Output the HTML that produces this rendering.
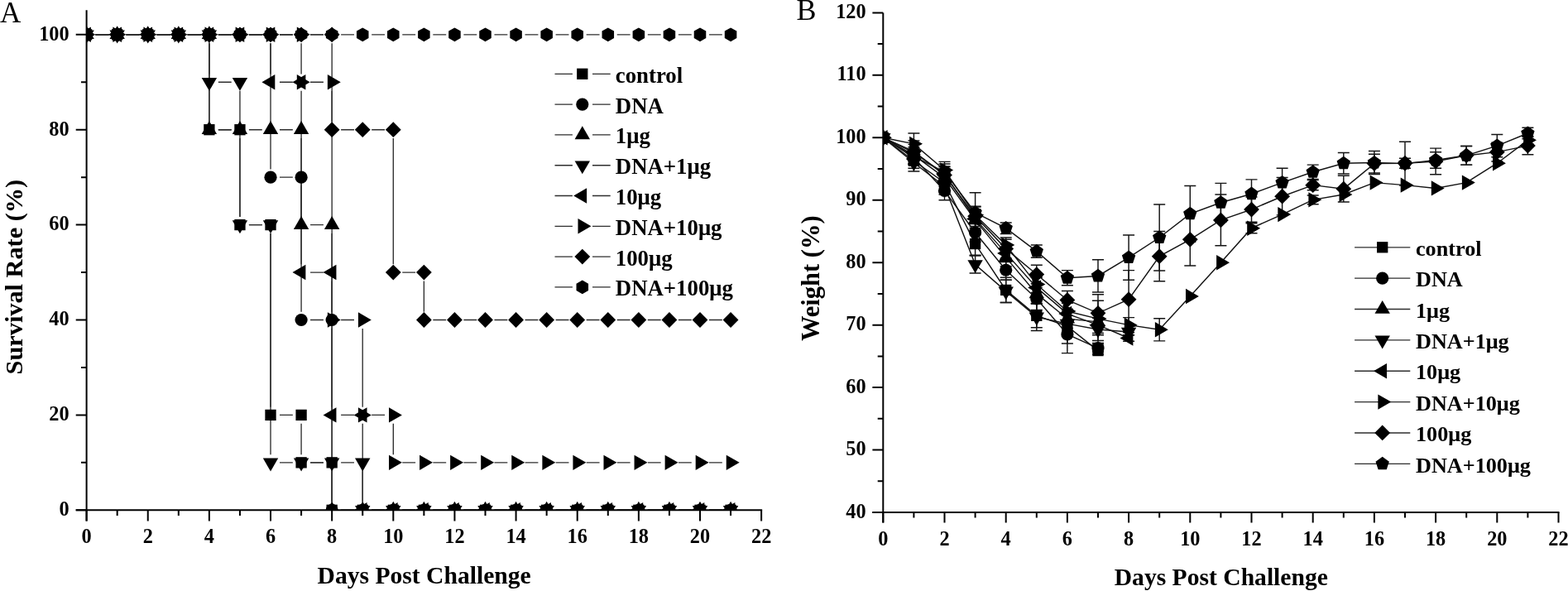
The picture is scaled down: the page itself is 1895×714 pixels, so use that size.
<!DOCTYPE html>
<html><head><meta charset="utf-8"><title>Survival and weight</title><style>html,body{margin:0;padding:0;background:#fff;}svg{display:block;}</style></head><body>
<svg width="1895" height="714" viewBox="0 0 1895 714">
<rect width="1895" height="714" fill="#fff"/>
<defs><clipPath id="ca"><rect x="104.6" y="0" width="827.54" height="616.3"/></clipPath><clipPath id="cb"><rect x="1067.3" y="0" width="830" height="619"/></clipPath></defs>
<g clip-path="url(#ca)" stroke="#2e2e2e" stroke-width="1.35" fill="none">
<path d="M115.55 41.80L131.42 41.80M152.62 41.80L168.49 41.80M189.69 41.80L205.56 41.80M226.76 41.80L242.63 41.80M252.88 52.20L252.88 147.00M263.83 156.70L279.70 156.70M289.95 167.10L289.95 261.90M300.90 271.60L316.77 271.60M327.02 282.00L327.02 491.70M337.97 501.40L353.84 501.40M364.09 511.80L364.09 549.15M375.04 558.85L390.91 558.85M401.16 569.25L401.16 606.60M412.11 616.30L427.98 616.30M449.18 616.30L465.05 616.30M486.25 616.30L502.12 616.30M523.32 616.30L539.19 616.30M560.39 616.30L576.26 616.30M597.46 616.30L613.33 616.30M634.53 616.30L650.40 616.30M671.60 616.30L687.47 616.30M708.67 616.30L724.54 616.30M745.74 616.30L761.61 616.30M782.81 616.30L798.68 616.30M819.88 616.30L835.75 616.30M856.95 616.30L872.82 616.30"/>
<path d="M115.55 41.80L131.42 41.80M152.62 41.80L168.49 41.80M189.69 41.80L205.56 41.80M226.76 41.80L242.63 41.80M263.83 41.80L279.70 41.80M300.90 41.80L316.77 41.80M327.02 52.20L327.02 204.45M337.97 214.15L353.84 214.15M364.09 224.55L364.09 376.80M375.04 386.50L390.91 386.50M401.16 396.90L401.16 606.60M412.11 616.30L427.98 616.30M449.18 616.30L465.05 616.30M486.25 616.30L502.12 616.30M523.32 616.30L539.19 616.30M560.39 616.30L576.26 616.30M597.46 616.30L613.33 616.30M634.53 616.30L650.40 616.30M671.60 616.30L687.47 616.30M708.67 616.30L724.54 616.30M745.74 616.30L761.61 616.30M782.81 616.30L798.68 616.30M819.88 616.30L835.75 616.30M856.95 616.30L872.82 616.30"/>
<path d="M115.55 41.80L131.42 41.80M152.62 41.80L168.49 41.80M189.69 41.80L205.56 41.80M226.76 41.80L242.63 41.80M252.88 52.20L252.88 147.00M263.83 156.70L279.70 156.70M300.90 156.70L316.77 156.70M337.97 156.70L353.84 156.70M364.09 167.10L364.09 261.90M375.04 271.60L390.91 271.60M401.16 282.00L401.16 606.60M412.11 616.30L427.98 616.30M449.18 616.30L465.05 616.30M486.25 616.30L502.12 616.30M523.32 616.30L539.19 616.30M560.39 616.30L576.26 616.30M597.46 616.30L613.33 616.30M634.53 616.30L650.40 616.30M671.60 616.30L687.47 616.30M708.67 616.30L724.54 616.30M745.74 616.30L761.61 616.30M782.81 616.30L798.68 616.30M819.88 616.30L835.75 616.30M856.95 616.30L872.82 616.30"/>
<path d="M115.55 41.80L131.42 41.80M152.62 41.80L168.49 41.80M189.69 41.80L205.56 41.80M226.76 41.80L242.63 41.80M252.88 52.20L252.88 89.55M263.83 99.25L279.70 99.25M289.95 109.65L289.95 261.90M300.90 271.60L316.77 271.60M327.02 282.00L327.02 549.15M337.97 558.85L353.84 558.85M375.04 558.85L390.91 558.85M412.11 558.85L427.98 558.85M438.23 569.25L438.23 606.60M449.18 616.30L465.05 616.30M486.25 616.30L502.12 616.30M523.32 616.30L539.19 616.30M560.39 616.30L576.26 616.30M597.46 616.30L613.33 616.30M634.53 616.30L650.40 616.30M671.60 616.30L687.47 616.30M708.67 616.30L724.54 616.30M745.74 616.30L761.61 616.30M782.81 616.30L798.68 616.30M819.88 616.30L835.75 616.30M856.95 616.30L872.82 616.30"/>
<path d="M115.55 41.80L131.42 41.80M152.62 41.80L168.49 41.80M189.69 41.80L205.56 41.80M226.76 41.80L242.63 41.80M263.83 41.80L279.70 41.80M300.90 41.80L316.77 41.80M327.02 52.20L327.02 89.55M337.97 99.25L353.84 99.25M364.09 109.65L364.09 319.35M375.04 329.05L390.91 329.05M401.16 339.45L401.16 491.70M412.11 501.40L427.98 501.40M438.23 511.80L438.23 606.60M449.18 616.30L465.05 616.30M486.25 616.30L502.12 616.30M523.32 616.30L539.19 616.30M560.39 616.30L576.26 616.30M597.46 616.30L613.33 616.30M634.53 616.30L650.40 616.30M671.60 616.30L687.47 616.30M708.67 616.30L724.54 616.30M745.74 616.30L761.61 616.30M782.81 616.30L798.68 616.30M819.88 616.30L835.75 616.30M856.95 616.30L872.82 616.30"/>
<path d="M115.55 41.80L131.42 41.80M152.62 41.80L168.49 41.80M189.69 41.80L205.56 41.80M226.76 41.80L242.63 41.80M263.83 41.80L279.70 41.80M300.90 41.80L316.77 41.80M337.97 41.80L353.84 41.80M364.09 52.20L364.09 89.55M375.04 99.25L390.91 99.25M401.16 109.65L401.16 376.80M412.11 386.50L427.98 386.50M438.23 396.90L438.23 491.70M449.18 501.40L465.05 501.40M475.30 511.80L475.30 549.15M486.25 558.85L502.12 558.85M523.32 558.85L539.19 558.85M560.39 558.85L576.26 558.85M597.46 558.85L613.33 558.85M634.53 558.85L650.40 558.85M671.60 558.85L687.47 558.85M708.67 558.85L724.54 558.85M745.74 558.85L761.61 558.85M782.81 558.85L798.68 558.85M819.88 558.85L835.75 558.85M856.95 558.85L872.82 558.85"/>
<path d="M115.55 41.80L131.42 41.80M152.62 41.80L168.49 41.80M189.69 41.80L205.56 41.80M226.76 41.80L242.63 41.80M263.83 41.80L279.70 41.80M300.90 41.80L316.77 41.80M337.97 41.80L353.84 41.80M375.04 41.80L390.91 41.80M401.16 52.20L401.16 147.00M412.11 156.70L427.98 156.70M449.18 156.70L465.05 156.70M475.30 167.10L475.30 319.35M486.25 329.05L502.12 329.05M512.37 339.45L512.37 376.80M523.32 386.50L539.19 386.50M560.39 386.50L576.26 386.50M597.46 386.50L613.33 386.50M634.53 386.50L650.40 386.50M671.60 386.50L687.47 386.50M708.67 386.50L724.54 386.50M745.74 386.50L761.61 386.50M782.81 386.50L798.68 386.50M819.88 386.50L835.75 386.50M856.95 386.50L872.82 386.50"/>
<path d="M115.55 41.80L131.42 41.80M152.62 41.80L168.49 41.80M189.69 41.80L205.56 41.80M226.76 41.80L242.63 41.80M263.83 41.80L279.70 41.80M300.90 41.80L316.77 41.80M337.97 41.80L353.84 41.80M375.04 41.80L390.91 41.80M412.11 41.80L427.98 41.80M449.18 41.80L465.05 41.80M486.25 41.80L502.12 41.80M523.32 41.80L539.19 41.80M560.39 41.80L576.26 41.80M597.46 41.80L613.33 41.80M634.53 41.80L650.40 41.80M671.60 41.80L687.47 41.80M708.67 41.80L724.54 41.80M745.74 41.80L761.61 41.80M782.81 41.80L798.68 41.80M819.88 41.80L835.75 41.80M856.95 41.80L872.82 41.80"/>
</g>
<g clip-path="url(#ca)" fill="#000">
<rect x="97.95" y="35.15" width="13.30" height="13.30"/>
<rect x="135.02" y="35.15" width="13.30" height="13.30"/>
<rect x="172.09" y="35.15" width="13.30" height="13.30"/>
<rect x="209.16" y="35.15" width="13.30" height="13.30"/>
<rect x="246.23" y="35.15" width="13.30" height="13.30"/>
<rect x="246.23" y="150.05" width="13.30" height="13.30"/>
<rect x="283.30" y="150.05" width="13.30" height="13.30"/>
<rect x="283.30" y="264.95" width="13.30" height="13.30"/>
<rect x="320.37" y="264.95" width="13.30" height="13.30"/>
<rect x="320.37" y="494.75" width="13.30" height="13.30"/>
<rect x="357.44" y="494.75" width="13.30" height="13.30"/>
<rect x="357.44" y="552.20" width="13.30" height="13.30"/>
<rect x="394.51" y="552.20" width="13.30" height="13.30"/>
<rect x="394.51" y="609.65" width="13.30" height="13.30"/>
<rect x="431.58" y="609.65" width="13.30" height="13.30"/>
<rect x="468.65" y="609.65" width="13.30" height="13.30"/>
<rect x="505.72" y="609.65" width="13.30" height="13.30"/>
<rect x="542.79" y="609.65" width="13.30" height="13.30"/>
<rect x="579.86" y="609.65" width="13.30" height="13.30"/>
<rect x="616.93" y="609.65" width="13.30" height="13.30"/>
<rect x="654.00" y="609.65" width="13.30" height="13.30"/>
<rect x="691.07" y="609.65" width="13.30" height="13.30"/>
<rect x="728.14" y="609.65" width="13.30" height="13.30"/>
<rect x="765.21" y="609.65" width="13.30" height="13.30"/>
<rect x="802.28" y="609.65" width="13.30" height="13.30"/>
<rect x="839.35" y="609.65" width="13.30" height="13.30"/>
<rect x="876.42" y="609.65" width="13.30" height="13.30"/>
<circle cx="104.60" cy="41.80" r="7.60"/>
<circle cx="141.67" cy="41.80" r="7.60"/>
<circle cx="178.74" cy="41.80" r="7.60"/>
<circle cx="215.81" cy="41.80" r="7.60"/>
<circle cx="252.88" cy="41.80" r="7.60"/>
<circle cx="289.95" cy="41.80" r="7.60"/>
<circle cx="327.02" cy="41.80" r="7.60"/>
<circle cx="327.02" cy="214.15" r="7.60"/>
<circle cx="364.09" cy="214.15" r="7.60"/>
<circle cx="364.09" cy="386.50" r="7.60"/>
<circle cx="401.16" cy="386.50" r="7.60"/>
<circle cx="401.16" cy="616.30" r="7.60"/>
<circle cx="438.23" cy="616.30" r="7.60"/>
<circle cx="475.30" cy="616.30" r="7.60"/>
<circle cx="512.37" cy="616.30" r="7.60"/>
<circle cx="549.44" cy="616.30" r="7.60"/>
<circle cx="586.51" cy="616.30" r="7.60"/>
<circle cx="623.58" cy="616.30" r="7.60"/>
<circle cx="660.65" cy="616.30" r="7.60"/>
<circle cx="697.72" cy="616.30" r="7.60"/>
<circle cx="734.79" cy="616.30" r="7.60"/>
<circle cx="771.86" cy="616.30" r="7.60"/>
<circle cx="808.93" cy="616.30" r="7.60"/>
<circle cx="846.00" cy="616.30" r="7.60"/>
<circle cx="883.07" cy="616.30" r="7.60"/>
<polygon points="104.60,31.20 113.80,47.10 95.40,47.10"/>
<polygon points="141.67,31.20 150.87,47.10 132.47,47.10"/>
<polygon points="178.74,31.20 187.94,47.10 169.54,47.10"/>
<polygon points="215.81,31.20 225.01,47.10 206.61,47.10"/>
<polygon points="252.88,31.20 262.08,47.10 243.68,47.10"/>
<polygon points="252.88,146.10 262.08,162.00 243.68,162.00"/>
<polygon points="289.95,146.10 299.15,162.00 280.75,162.00"/>
<polygon points="327.02,146.10 336.22,162.00 317.82,162.00"/>
<polygon points="364.09,146.10 373.29,162.00 354.89,162.00"/>
<polygon points="364.09,261.00 373.29,276.90 354.89,276.90"/>
<polygon points="401.16,261.00 410.36,276.90 391.96,276.90"/>
<polygon points="401.16,605.70 410.36,621.60 391.96,621.60"/>
<polygon points="438.23,605.70 447.43,621.60 429.03,621.60"/>
<polygon points="475.30,605.70 484.50,621.60 466.10,621.60"/>
<polygon points="512.37,605.70 521.57,621.60 503.17,621.60"/>
<polygon points="549.44,605.70 558.64,621.60 540.24,621.60"/>
<polygon points="586.51,605.70 595.71,621.60 577.31,621.60"/>
<polygon points="623.58,605.70 632.78,621.60 614.38,621.60"/>
<polygon points="660.65,605.70 669.85,621.60 651.45,621.60"/>
<polygon points="697.72,605.70 706.92,621.60 688.52,621.60"/>
<polygon points="734.79,605.70 743.99,621.60 725.59,621.60"/>
<polygon points="771.86,605.70 781.06,621.60 762.66,621.60"/>
<polygon points="808.93,605.70 818.13,621.60 799.73,621.60"/>
<polygon points="846.00,605.70 855.20,621.60 836.80,621.60"/>
<polygon points="883.07,605.70 892.27,621.60 873.87,621.60"/>
<polygon points="104.60,52.40 113.80,36.50 95.40,36.50"/>
<polygon points="141.67,52.40 150.87,36.50 132.47,36.50"/>
<polygon points="178.74,52.40 187.94,36.50 169.54,36.50"/>
<polygon points="215.81,52.40 225.01,36.50 206.61,36.50"/>
<polygon points="252.88,52.40 262.08,36.50 243.68,36.50"/>
<polygon points="252.88,109.85 262.08,93.95 243.68,93.95"/>
<polygon points="289.95,109.85 299.15,93.95 280.75,93.95"/>
<polygon points="289.95,282.20 299.15,266.30 280.75,266.30"/>
<polygon points="327.02,282.20 336.22,266.30 317.82,266.30"/>
<polygon points="327.02,569.45 336.22,553.55 317.82,553.55"/>
<polygon points="364.09,569.45 373.29,553.55 354.89,553.55"/>
<polygon points="401.16,569.45 410.36,553.55 391.96,553.55"/>
<polygon points="438.23,569.45 447.43,553.55 429.03,553.55"/>
<polygon points="438.23,626.90 447.43,611.00 429.03,611.00"/>
<polygon points="475.30,626.90 484.50,611.00 466.10,611.00"/>
<polygon points="512.37,626.90 521.57,611.00 503.17,611.00"/>
<polygon points="549.44,626.90 558.64,611.00 540.24,611.00"/>
<polygon points="586.51,626.90 595.71,611.00 577.31,611.00"/>
<polygon points="623.58,626.90 632.78,611.00 614.38,611.00"/>
<polygon points="660.65,626.90 669.85,611.00 651.45,611.00"/>
<polygon points="697.72,626.90 706.92,611.00 688.52,611.00"/>
<polygon points="734.79,626.90 743.99,611.00 725.59,611.00"/>
<polygon points="771.86,626.90 781.06,611.00 762.66,611.00"/>
<polygon points="808.93,626.90 818.13,611.00 799.73,611.00"/>
<polygon points="846.00,626.90 855.20,611.00 836.80,611.00"/>
<polygon points="883.07,626.90 892.27,611.00 873.87,611.00"/>
<polygon points="94.00,41.80 109.90,32.60 109.90,51.00"/>
<polygon points="131.07,41.80 146.97,32.60 146.97,51.00"/>
<polygon points="168.14,41.80 184.04,32.60 184.04,51.00"/>
<polygon points="205.21,41.80 221.11,32.60 221.11,51.00"/>
<polygon points="242.28,41.80 258.18,32.60 258.18,51.00"/>
<polygon points="279.35,41.80 295.25,32.60 295.25,51.00"/>
<polygon points="316.42,41.80 332.32,32.60 332.32,51.00"/>
<polygon points="316.42,99.25 332.32,90.05 332.32,108.45"/>
<polygon points="353.49,99.25 369.39,90.05 369.39,108.45"/>
<polygon points="353.49,329.05 369.39,319.85 369.39,338.25"/>
<polygon points="390.56,329.05 406.46,319.85 406.46,338.25"/>
<polygon points="390.56,501.40 406.46,492.20 406.46,510.60"/>
<polygon points="427.63,501.40 443.53,492.20 443.53,510.60"/>
<polygon points="427.63,616.30 443.53,607.10 443.53,625.50"/>
<polygon points="464.70,616.30 480.60,607.10 480.60,625.50"/>
<polygon points="501.77,616.30 517.67,607.10 517.67,625.50"/>
<polygon points="538.84,616.30 554.74,607.10 554.74,625.50"/>
<polygon points="575.91,616.30 591.81,607.10 591.81,625.50"/>
<polygon points="612.98,616.30 628.88,607.10 628.88,625.50"/>
<polygon points="650.05,616.30 665.95,607.10 665.95,625.50"/>
<polygon points="687.12,616.30 703.02,607.10 703.02,625.50"/>
<polygon points="724.19,616.30 740.09,607.10 740.09,625.50"/>
<polygon points="761.26,616.30 777.16,607.10 777.16,625.50"/>
<polygon points="798.33,616.30 814.23,607.10 814.23,625.50"/>
<polygon points="835.40,616.30 851.30,607.10 851.30,625.50"/>
<polygon points="872.47,616.30 888.37,607.10 888.37,625.50"/>
<polygon points="115.20,41.80 99.30,32.60 99.30,51.00"/>
<polygon points="152.27,41.80 136.37,32.60 136.37,51.00"/>
<polygon points="189.34,41.80 173.44,32.60 173.44,51.00"/>
<polygon points="226.41,41.80 210.51,32.60 210.51,51.00"/>
<polygon points="263.48,41.80 247.58,32.60 247.58,51.00"/>
<polygon points="300.55,41.80 284.65,32.60 284.65,51.00"/>
<polygon points="337.62,41.80 321.72,32.60 321.72,51.00"/>
<polygon points="374.69,41.80 358.79,32.60 358.79,51.00"/>
<polygon points="374.69,99.25 358.79,90.05 358.79,108.45"/>
<polygon points="411.76,99.25 395.86,90.05 395.86,108.45"/>
<polygon points="411.76,386.50 395.86,377.30 395.86,395.70"/>
<polygon points="448.83,386.50 432.93,377.30 432.93,395.70"/>
<polygon points="448.83,501.40 432.93,492.20 432.93,510.60"/>
<polygon points="485.90,501.40 470.00,492.20 470.00,510.60"/>
<polygon points="485.90,558.85 470.00,549.65 470.00,568.05"/>
<polygon points="522.97,558.85 507.07,549.65 507.07,568.05"/>
<polygon points="560.04,558.85 544.14,549.65 544.14,568.05"/>
<polygon points="597.11,558.85 581.21,549.65 581.21,568.05"/>
<polygon points="634.18,558.85 618.28,549.65 618.28,568.05"/>
<polygon points="671.25,558.85 655.35,549.65 655.35,568.05"/>
<polygon points="708.32,558.85 692.42,549.65 692.42,568.05"/>
<polygon points="745.39,558.85 729.49,549.65 729.49,568.05"/>
<polygon points="782.46,558.85 766.56,549.65 766.56,568.05"/>
<polygon points="819.53,558.85 803.63,549.65 803.63,568.05"/>
<polygon points="856.60,558.85 840.70,549.65 840.70,568.05"/>
<polygon points="893.67,558.85 877.77,549.65 877.77,568.05"/>
<polygon points="104.60,32.40 114.00,41.80 104.60,51.20 95.20,41.80"/>
<polygon points="141.67,32.40 151.07,41.80 141.67,51.20 132.27,41.80"/>
<polygon points="178.74,32.40 188.14,41.80 178.74,51.20 169.34,41.80"/>
<polygon points="215.81,32.40 225.21,41.80 215.81,51.20 206.41,41.80"/>
<polygon points="252.88,32.40 262.28,41.80 252.88,51.20 243.48,41.80"/>
<polygon points="289.95,32.40 299.35,41.80 289.95,51.20 280.55,41.80"/>
<polygon points="327.02,32.40 336.42,41.80 327.02,51.20 317.62,41.80"/>
<polygon points="364.09,32.40 373.49,41.80 364.09,51.20 354.69,41.80"/>
<polygon points="401.16,32.40 410.56,41.80 401.16,51.20 391.76,41.80"/>
<polygon points="401.16,147.30 410.56,156.70 401.16,166.10 391.76,156.70"/>
<polygon points="438.23,147.30 447.63,156.70 438.23,166.10 428.83,156.70"/>
<polygon points="475.30,147.30 484.70,156.70 475.30,166.10 465.90,156.70"/>
<polygon points="475.30,319.65 484.70,329.05 475.30,338.45 465.90,329.05"/>
<polygon points="512.37,319.65 521.77,329.05 512.37,338.45 502.97,329.05"/>
<polygon points="512.37,377.10 521.77,386.50 512.37,395.90 502.97,386.50"/>
<polygon points="549.44,377.10 558.84,386.50 549.44,395.90 540.04,386.50"/>
<polygon points="586.51,377.10 595.91,386.50 586.51,395.90 577.11,386.50"/>
<polygon points="623.58,377.10 632.98,386.50 623.58,395.90 614.18,386.50"/>
<polygon points="660.65,377.10 670.05,386.50 660.65,395.90 651.25,386.50"/>
<polygon points="697.72,377.10 707.12,386.50 697.72,395.90 688.32,386.50"/>
<polygon points="734.79,377.10 744.19,386.50 734.79,395.90 725.39,386.50"/>
<polygon points="771.86,377.10 781.26,386.50 771.86,395.90 762.46,386.50"/>
<polygon points="808.93,377.10 818.33,386.50 808.93,395.90 799.53,386.50"/>
<polygon points="846.00,377.10 855.40,386.50 846.00,395.90 836.60,386.50"/>
<polygon points="883.07,377.10 892.47,386.50 883.07,395.90 873.67,386.50"/>
<polygon points="104.60,33.40 111.87,37.60 111.87,46.00 104.60,50.20 97.33,46.00 97.33,37.60"/>
<polygon points="141.67,33.40 148.94,37.60 148.94,46.00 141.67,50.20 134.40,46.00 134.40,37.60"/>
<polygon points="178.74,33.40 186.01,37.60 186.01,46.00 178.74,50.20 171.47,46.00 171.47,37.60"/>
<polygon points="215.81,33.40 223.08,37.60 223.08,46.00 215.81,50.20 208.54,46.00 208.54,37.60"/>
<polygon points="252.88,33.40 260.15,37.60 260.15,46.00 252.88,50.20 245.61,46.00 245.61,37.60"/>
<polygon points="289.95,33.40 297.22,37.60 297.22,46.00 289.95,50.20 282.68,46.00 282.68,37.60"/>
<polygon points="327.02,33.40 334.29,37.60 334.29,46.00 327.02,50.20 319.75,46.00 319.75,37.60"/>
<polygon points="364.09,33.40 371.36,37.60 371.36,46.00 364.09,50.20 356.82,46.00 356.82,37.60"/>
<polygon points="401.16,33.40 408.43,37.60 408.43,46.00 401.16,50.20 393.89,46.00 393.89,37.60"/>
<polygon points="438.23,33.40 445.50,37.60 445.50,46.00 438.23,50.20 430.96,46.00 430.96,37.60"/>
<polygon points="475.30,33.40 482.57,37.60 482.57,46.00 475.30,50.20 468.03,46.00 468.03,37.60"/>
<polygon points="512.37,33.40 519.64,37.60 519.64,46.00 512.37,50.20 505.10,46.00 505.10,37.60"/>
<polygon points="549.44,33.40 556.71,37.60 556.71,46.00 549.44,50.20 542.17,46.00 542.17,37.60"/>
<polygon points="586.51,33.40 593.78,37.60 593.78,46.00 586.51,50.20 579.24,46.00 579.24,37.60"/>
<polygon points="623.58,33.40 630.85,37.60 630.85,46.00 623.58,50.20 616.31,46.00 616.31,37.60"/>
<polygon points="660.65,33.40 667.92,37.60 667.92,46.00 660.65,50.20 653.38,46.00 653.38,37.60"/>
<polygon points="697.72,33.40 704.99,37.60 704.99,46.00 697.72,50.20 690.45,46.00 690.45,37.60"/>
<polygon points="734.79,33.40 742.06,37.60 742.06,46.00 734.79,50.20 727.52,46.00 727.52,37.60"/>
<polygon points="771.86,33.40 779.13,37.60 779.13,46.00 771.86,50.20 764.59,46.00 764.59,37.60"/>
<polygon points="808.93,33.40 816.20,37.60 816.20,46.00 808.93,50.20 801.66,46.00 801.66,37.60"/>
<polygon points="846.00,33.40 853.27,37.60 853.27,46.00 846.00,50.20 838.73,46.00 838.73,37.60"/>
<polygon points="883.07,33.40 890.34,37.60 890.34,46.00 883.07,50.20 875.80,46.00 875.80,37.60"/>
</g>
<g stroke="#000" stroke-width="2.0" fill="none" stroke-linecap="butt">
<path d="M104.6 12.3V629.5M91.7 616.3H921.14"/>
<path d="M104.60 616.3v13.2M141.67 616.3v6.8M178.74 616.3v13.2M215.81 616.3v6.8M252.88 616.3v13.2M289.95 616.3v6.8M327.02 616.3v13.2M364.09 616.3v6.8M401.16 616.3v13.2M438.23 616.3v6.8M475.30 616.3v13.2M512.37 616.3v6.8M549.44 616.3v13.2M586.51 616.3v6.8M623.58 616.3v13.2M660.65 616.3v6.8M697.72 616.3v13.2M734.79 616.3v6.8M771.86 616.3v13.2M808.93 616.3v6.8M846.00 616.3v13.2M883.07 616.3v6.8M920.14 616.3v13.2M104.6 616.30h-12.9M104.6 558.85h-6.6M104.6 501.40h-12.9M104.6 443.95h-6.6M104.6 386.50h-12.9M104.6 329.05h-6.6M104.6 271.60h-12.9M104.6 214.15h-6.6M104.6 156.70h-12.9M104.6 99.25h-6.6M104.6 41.80h-12.9"/>
</g>
<g font-family='"Liberation Serif", serif' font-weight="bold" font-size="24.3" fill="#000">
<text x="104.60" y="656.40" text-anchor="middle">0</text>
<text x="178.74" y="656.40" text-anchor="middle">2</text>
<text x="252.88" y="656.40" text-anchor="middle">4</text>
<text x="327.02" y="656.40" text-anchor="middle">6</text>
<text x="401.16" y="656.40" text-anchor="middle">8</text>
<text x="475.30" y="656.40" text-anchor="middle">10</text>
<text x="549.44" y="656.40" text-anchor="middle">12</text>
<text x="623.58" y="656.40" text-anchor="middle">14</text>
<text x="697.72" y="656.40" text-anchor="middle">16</text>
<text x="771.86" y="656.40" text-anchor="middle">18</text>
<text x="846.00" y="656.40" text-anchor="middle">20</text>
<text x="920.14" y="656.40" text-anchor="middle">22</text>
<text x="83.6" y="623.10" text-anchor="end">0</text>
<text x="83.6" y="508.20" text-anchor="end">20</text>
<text x="83.6" y="393.30" text-anchor="end">40</text>
<text x="83.6" y="278.40" text-anchor="end">60</text>
<text x="83.6" y="163.50" text-anchor="end">80</text>
<text x="83.6" y="48.60" text-anchor="end">100</text>
</g>
<text x="512.6" y="705.0" text-anchor="middle" font-family='"Liberation Serif", serif' font-weight="bold" font-size="29.6">Days Post Challenge</text>
<text transform="translate(27.3,334.6) rotate(-90)" text-anchor="middle" font-family='"Liberation Serif", serif' font-weight="bold" font-size="30.3">Survival Rate (%)</text>
<text x="0" y="27.3" font-family='"Liberation Serif", serif' font-size="35">A</text>
<g stroke="#2e2e2e" stroke-width="1.35">
<path d="M670.5 89.30H691.9M716 89.30H737.7"/>
<path d="M670.5 126.10H691.9M716 126.10H737.7"/>
<path d="M670.5 162.90H691.9M716 162.90H737.7"/>
<path d="M670.5 199.70H691.9M716 199.70H737.7"/>
<path d="M670.5 236.50H691.9M716 236.50H737.7"/>
<path d="M670.5 273.30H691.9M716 273.30H737.7"/>
<path d="M670.5 310.10H691.9M716 310.10H737.7"/>
<path d="M670.5 346.90H691.9M716 346.90H737.7"/>
</g><g fill="#000">
<rect x="697.15" y="82.65" width="13.30" height="13.30"/>
<circle cx="703.80" cy="126.10" r="7.60"/>
<polygon points="703.80,152.30 713.00,168.20 694.60,168.20"/>
<polygon points="703.80,210.30 713.00,194.40 694.60,194.40"/>
<polygon points="693.20,236.50 709.10,227.30 709.10,245.70"/>
<polygon points="714.40,273.30 698.50,264.10 698.50,282.50"/>
<polygon points="703.80,300.70 713.20,310.10 703.80,319.50 694.40,310.10"/>
<polygon points="703.80,338.50 711.07,342.70 711.07,351.10 703.80,355.30 696.53,351.10 696.53,342.70"/>
</g>
<g font-family='"Liberation Serif", serif' font-weight="bold" font-size="26.8" fill="#000">
<text x="743.8" y="99.70">control</text>
<text x="743.8" y="136.50">DNA</text>
<text x="743.8" y="173.30">1μg</text>
<text x="743.8" y="210.10">DNA+1μg</text>
<text x="743.8" y="246.90">10μg</text>
<text x="743.8" y="283.70">DNA+10μg</text>
<text x="743.8" y="320.50">100μg</text>
<text x="743.8" y="357.30">DNA+100μg</text>
</g>
<g clip-path="url(#cb)" stroke="#141414" stroke-width="1.45" fill="none">
<path d="M1104.40 185.16V203.27M1097.40 185.16h14.0M1097.40 203.27h14.0M1141.50 209.31V231.94M1134.50 209.31h14.0M1134.50 231.94h14.0M1178.60 280.98V308.15M1171.60 280.98h14.0M1171.60 308.15h14.0M1215.70 335.31V365.49M1208.70 335.31h14.0M1208.70 365.49h14.0M1252.80 367.00V395.67M1245.80 367.00h14.0M1245.80 395.67h14.0M1289.90 373.41V414.91M1282.90 373.41h14.0M1282.90 414.91h14.0M1327.00 419.06V428.11M1320.00 419.06h14.0M1320.00 428.11h14.0"/>
<path d="M1104.40 182.90V197.99M1097.40 182.90h14.0M1097.40 197.99h14.0M1141.50 219.12V241.75M1134.50 219.12h14.0M1134.50 241.75h14.0M1178.60 269.67V292.30M1171.60 269.67h14.0M1171.60 292.30h14.0M1215.70 314.18V338.33M1208.70 314.18h14.0M1208.70 338.33h14.0M1252.80 347.38V374.54M1245.80 347.38h14.0M1245.80 374.54h14.0M1289.90 381.33V426.60M1282.90 381.33h14.0M1282.90 426.60h14.0M1327.00 416.04V425.09M1320.00 416.04h14.0M1320.00 425.09h14.0"/>
<path d="M1104.40 177.62V197.23M1097.40 177.62h14.0M1097.40 197.23h14.0M1141.50 204.02V225.15M1134.50 204.02h14.0M1134.50 225.15h14.0M1178.60 253.82V277.97M1171.60 253.82h14.0M1171.60 277.97h14.0M1215.70 300.60V321.73M1208.70 300.60h14.0M1208.70 321.73h14.0M1252.80 342.85V367.00M1245.80 342.85h14.0M1245.80 367.00h14.0M1289.90 373.79V396.42M1282.90 373.79h14.0M1282.90 396.42h14.0M1327.00 375.30V402.46M1320.00 375.30h14.0M1320.00 402.46h14.0"/>
<path d="M1104.40 185.92V207.04M1097.40 185.92h14.0M1097.40 207.04h14.0M1141.50 215.34V234.96M1134.50 215.34h14.0M1134.50 234.96h14.0M1178.60 308.90V330.03M1171.60 308.90h14.0M1171.60 330.03h14.0M1215.70 338.33V365.49M1208.70 338.33h14.0M1208.70 365.49h14.0M1252.80 366.24V399.44M1245.80 366.24h14.0M1245.80 399.44h14.0M1289.90 376.05V406.23M1282.90 376.05h14.0M1282.90 406.23h14.0M1327.00 384.35V411.51M1320.00 384.35h14.0M1320.00 411.51h14.0M1364.10 397.18V404.72M1357.10 397.18h14.0M1357.10 404.72h14.0"/>
<path d="M1104.40 170.07V198.74M1097.40 170.07h14.0M1097.40 198.74h14.0M1141.50 201.01V219.12M1134.50 201.01h14.0M1134.50 219.12h14.0M1178.60 253.07V275.70M1171.60 253.07h14.0M1171.60 275.70h14.0M1215.70 295.32V316.45M1208.70 295.32h14.0M1208.70 316.45h14.0M1252.80 335.31V359.45M1245.80 335.31h14.0M1245.80 359.45h14.0M1289.90 366.24V391.90M1282.90 366.24h14.0M1282.90 391.90h14.0M1327.00 380.58V404.72M1320.00 380.58h14.0M1320.00 404.72h14.0M1364.10 404.72V412.27M1357.10 404.72h14.0M1357.10 412.27h14.0"/>
<path d="M1104.40 161.02V186.67M1097.40 161.02h14.0M1097.40 186.67h14.0M1141.50 195.35V215.72M1134.50 195.35h14.0M1134.50 215.72h14.0M1178.60 250.05V269.67M1171.60 250.05h14.0M1171.60 269.67h14.0M1215.70 287.02V305.13M1208.70 287.02h14.0M1208.70 305.13h14.0M1252.80 333.80V353.42M1245.80 333.80h14.0M1245.80 353.42h14.0M1289.90 364.73V387.37M1282.90 364.73h14.0M1282.90 387.37h14.0M1327.00 355.68V414.53M1320.00 355.68h14.0M1320.00 414.53h14.0M1364.10 383.60V401.70M1357.10 383.60h14.0M1357.10 401.70h14.0M1401.20 384.73V411.89M1394.20 384.73h14.0M1394.20 411.89h14.0M1512.50 269.67V281.74M1505.50 269.67h14.0M1505.50 281.74h14.0M1586.70 236.09V246.65M1579.70 236.09h14.0M1579.70 246.65h14.0M1846.40 164.79V173.85M1839.40 164.79h14.0M1839.40 173.85h14.0"/>
<path d="M1104.40 174.60V191.20M1097.40 174.60h14.0M1097.40 191.20h14.0M1141.50 201.76V221.38M1134.50 201.76h14.0M1134.50 221.38h14.0M1178.60 249.30V273.44M1171.60 249.30h14.0M1171.60 273.44h14.0M1215.70 289.28V311.92M1208.70 289.28h14.0M1208.70 311.92h14.0M1252.80 320.22V342.85M1245.80 320.22h14.0M1245.80 342.85h14.0M1289.90 351.53V373.41M1282.90 351.53h14.0M1282.90 373.41h14.0M1327.00 363.22V393.40M1320.00 363.22h14.0M1320.00 393.40h14.0M1364.10 326.63V396.80M1357.10 326.63h14.0M1357.10 396.80h14.0M1401.20 279.48V339.83M1394.20 279.48h14.0M1394.20 339.83h14.0M1438.30 257.59V320.97M1431.30 257.59h14.0M1431.30 320.97h14.0M1475.40 234.96V296.83M1468.40 234.96h14.0M1468.40 296.83h14.0M1512.50 237.98V268.16M1505.50 237.98h14.0M1505.50 268.16h14.0M1549.60 214.59V259.86M1542.60 214.59h14.0M1542.60 259.86h14.0M1586.70 217.61V229.68M1579.70 217.61h14.0M1579.70 229.68h14.0M1623.80 212.32V244.01M1616.80 212.32h14.0M1616.80 244.01h14.0M1660.90 186.29V208.93M1653.90 186.29h14.0M1653.90 208.93h14.0M1698.00 191.20V203.27M1691.00 191.20h14.0M1691.00 203.27h14.0M1735.10 179.13V210.82M1728.10 179.13h14.0M1728.10 210.82h14.0M1772.20 176.49V199.12M1765.20 176.49h14.0M1765.20 199.12h14.0M1809.30 172.34V194.97M1802.30 172.34h14.0M1802.30 194.97h14.0M1846.40 165.55V186.67M1839.40 165.55h14.0M1839.40 186.67h14.0"/>
<path d="M1104.40 179.13V198.74M1097.40 179.13h14.0M1097.40 198.74h14.0M1141.50 197.99V217.61M1134.50 197.99h14.0M1134.50 217.61h14.0M1178.60 232.70V280.98M1171.60 232.70h14.0M1171.60 280.98h14.0M1215.70 268.91V282.49M1208.70 268.91h14.0M1208.70 282.49h14.0M1252.80 296.07V311.16M1245.80 296.07h14.0M1245.80 311.16h14.0M1289.90 326.63V344.74M1282.90 326.63h14.0M1282.90 344.74h14.0M1327.00 313.80V353.04M1320.00 313.80h14.0M1320.00 353.04h14.0M1364.10 284.00V338.33M1357.10 284.00h14.0M1357.10 338.33h14.0M1401.20 247.03V327.01M1394.20 247.03h14.0M1394.20 327.01h14.0M1438.30 224.40V292.30M1431.30 224.40h14.0M1431.30 292.30h14.0M1475.40 221.38V268.16M1468.40 221.38h14.0M1468.40 268.16h14.0M1512.50 216.85V251.56M1505.50 216.85h14.0M1505.50 251.56h14.0M1549.60 203.27V237.98M1542.60 203.27h14.0M1542.60 237.98h14.0M1586.70 199.12V216.47M1579.70 199.12h14.0M1579.70 216.47h14.0M1623.80 184.41V210.06M1616.80 184.41h14.0M1616.80 210.06h14.0M1660.90 182.52V210.44M1653.90 182.52h14.0M1653.90 210.44h14.0M1698.00 171.20V224.02M1691.00 171.20h14.0M1691.00 224.02h14.0M1735.10 183.65V203.27M1728.10 183.65h14.0M1728.10 203.27h14.0M1772.20 176.49V199.12M1765.20 176.49h14.0M1765.20 199.12h14.0M1809.30 162.53V189.69M1802.30 162.53h14.0M1802.30 189.69h14.0M1846.40 154.23V167.81M1839.40 154.23h14.0M1839.40 167.81h14.0"/>
<path d="M1067.30 166.30L1104.40 194.22L1141.50 220.62L1178.60 294.56L1215.70 350.40L1252.80 381.33L1289.90 394.16L1327.00 423.58"/>
<path d="M1067.30 166.30L1104.40 190.44L1141.50 230.43L1178.60 280.98L1215.70 326.25L1252.80 360.96L1289.90 403.97L1327.00 420.57"/>
<path d="M1067.30 166.30L1104.40 187.43L1141.50 214.59L1178.60 265.89L1215.70 311.16L1252.80 354.93L1289.90 385.11L1327.00 388.88"/>
<path d="M1067.30 166.30L1104.40 196.48L1141.50 225.15L1178.60 319.46L1215.70 351.91L1252.80 382.84L1289.90 391.14L1327.00 397.93L1364.10 400.95"/>
<path d="M1067.30 166.30L1104.40 184.41L1141.50 210.06L1178.60 264.38L1215.70 305.88L1252.80 347.38L1289.90 379.07L1327.00 392.65L1364.10 408.49"/>
<path d="M1067.30 166.30L1104.40 173.85L1141.50 205.53L1178.60 259.86L1215.70 296.07L1252.80 343.61L1289.90 376.05L1327.00 385.11L1364.10 392.65L1401.20 398.31L1438.30 357.94L1475.40 317.20L1512.50 275.70L1549.60 259.10L1586.70 241.37L1623.80 234.96L1660.90 220.62L1698.00 223.64L1735.10 227.41L1772.20 220.62L1809.30 197.23L1846.40 169.32"/>
<path d="M1067.30 166.30L1104.40 182.90L1141.50 211.57L1178.60 261.37L1215.70 300.60L1252.80 331.54L1289.90 362.47L1327.00 378.31L1364.10 361.72L1401.20 309.66L1438.30 289.28L1475.40 265.89L1512.50 253.07L1549.60 237.22L1586.70 223.64L1623.80 228.17L1660.90 197.61L1698.00 197.23L1735.10 194.97L1772.20 187.80L1809.30 183.65L1846.40 176.11"/>
<path d="M1067.30 166.30L1104.40 188.94L1141.50 207.80L1178.60 256.84L1215.70 275.70L1252.80 303.62L1289.90 335.69L1327.00 333.42L1364.10 311.16L1401.20 287.02L1438.30 258.35L1475.40 244.77L1512.50 234.20L1549.60 220.62L1586.70 207.80L1623.80 197.23L1660.90 196.48L1698.00 197.61L1735.10 193.46L1772.20 187.80L1809.30 176.11L1846.40 161.02"/>
</g>
<g clip-path="url(#cb)" fill="#000">
<rect x="1060.65" y="159.65" width="13.30" height="13.30"/>
<rect x="1097.75" y="187.57" width="13.30" height="13.30"/>
<rect x="1134.85" y="213.97" width="13.30" height="13.30"/>
<rect x="1171.95" y="287.92" width="13.30" height="13.30"/>
<rect x="1209.05" y="343.75" width="13.30" height="13.30"/>
<rect x="1246.15" y="374.68" width="13.30" height="13.30"/>
<rect x="1283.25" y="387.51" width="13.30" height="13.30"/>
<rect x="1320.35" y="416.93" width="13.30" height="13.30"/>
<circle cx="1067.30" cy="166.30" r="7.60"/>
<circle cx="1104.40" cy="190.44" r="7.60"/>
<circle cx="1141.50" cy="230.43" r="7.60"/>
<circle cx="1178.60" cy="280.98" r="7.60"/>
<circle cx="1215.70" cy="326.25" r="7.60"/>
<circle cx="1252.80" cy="360.96" r="7.60"/>
<circle cx="1289.90" cy="403.97" r="7.60"/>
<circle cx="1327.00" cy="420.57" r="7.60"/>
<polygon points="1067.30,155.70 1076.50,171.60 1058.10,171.60"/>
<polygon points="1104.40,176.83 1113.60,192.73 1095.20,192.73"/>
<polygon points="1141.50,203.99 1150.70,219.89 1132.30,219.89"/>
<polygon points="1178.60,255.29 1187.80,271.19 1169.40,271.19"/>
<polygon points="1215.70,300.56 1224.90,316.46 1206.50,316.46"/>
<polygon points="1252.80,344.32 1262.00,360.23 1243.60,360.23"/>
<polygon points="1289.90,374.50 1299.10,390.41 1280.70,390.41"/>
<polygon points="1327.00,378.28 1336.20,394.18 1317.80,394.18"/>
<polygon points="1067.30,176.90 1076.50,161.00 1058.10,161.00"/>
<polygon points="1104.40,207.08 1113.60,191.18 1095.20,191.18"/>
<polygon points="1141.50,235.75 1150.70,219.85 1132.30,219.85"/>
<polygon points="1178.60,330.06 1187.80,314.16 1169.40,314.16"/>
<polygon points="1215.70,362.51 1224.90,346.61 1206.50,346.61"/>
<polygon points="1252.80,393.44 1262.00,377.54 1243.60,377.54"/>
<polygon points="1289.90,401.74 1299.10,385.84 1280.70,385.84"/>
<polygon points="1327.00,408.53 1336.20,392.63 1317.80,392.63"/>
<polygon points="1364.10,411.55 1373.30,395.65 1354.90,395.65"/>
<polygon points="1056.70,166.30 1072.60,157.10 1072.60,175.50"/>
<polygon points="1093.80,184.41 1109.70,175.21 1109.70,193.61"/>
<polygon points="1130.90,210.06 1146.80,200.86 1146.80,219.26"/>
<polygon points="1168.00,264.38 1183.90,255.19 1183.90,273.58"/>
<polygon points="1205.10,305.88 1221.00,296.68 1221.00,315.08"/>
<polygon points="1242.20,347.38 1258.10,338.18 1258.10,356.58"/>
<polygon points="1279.30,379.07 1295.20,369.87 1295.20,388.27"/>
<polygon points="1316.40,392.65 1332.30,383.45 1332.30,401.85"/>
<polygon points="1353.50,408.49 1369.40,399.29 1369.40,417.69"/>
<polygon points="1077.90,166.30 1062.00,157.10 1062.00,175.50"/>
<polygon points="1115.00,173.85 1099.10,164.65 1099.10,183.05"/>
<polygon points="1152.10,205.53 1136.20,196.33 1136.20,214.73"/>
<polygon points="1189.20,259.86 1173.30,250.66 1173.30,269.06"/>
<polygon points="1226.30,296.07 1210.40,286.87 1210.40,305.27"/>
<polygon points="1263.40,343.61 1247.50,334.41 1247.50,352.81"/>
<polygon points="1300.50,376.05 1284.60,366.85 1284.60,385.25"/>
<polygon points="1337.60,385.11 1321.70,375.91 1321.70,394.31"/>
<polygon points="1374.70,392.65 1358.80,383.45 1358.80,401.85"/>
<polygon points="1411.80,398.31 1395.90,389.11 1395.90,407.51"/>
<polygon points="1448.90,357.94 1433.00,348.74 1433.00,367.14"/>
<polygon points="1486.00,317.20 1470.10,308.00 1470.10,326.40"/>
<polygon points="1523.10,275.70 1507.20,266.50 1507.20,284.90"/>
<polygon points="1560.20,259.10 1544.30,249.90 1544.30,268.30"/>
<polygon points="1597.30,241.37 1581.40,232.17 1581.40,250.57"/>
<polygon points="1634.40,234.96 1618.50,225.76 1618.50,244.16"/>
<polygon points="1671.50,220.62 1655.60,211.42 1655.60,229.82"/>
<polygon points="1708.60,223.64 1692.70,214.44 1692.70,232.84"/>
<polygon points="1745.70,227.41 1729.80,218.21 1729.80,236.61"/>
<polygon points="1782.80,220.62 1766.90,211.42 1766.90,229.82"/>
<polygon points="1819.90,197.23 1804.00,188.03 1804.00,206.43"/>
<polygon points="1857.00,169.32 1841.10,160.12 1841.10,178.52"/>
<polygon points="1067.30,156.90 1076.70,166.30 1067.30,175.70 1057.90,166.30"/>
<polygon points="1104.40,173.50 1113.80,182.90 1104.40,192.30 1095.00,182.90"/>
<polygon points="1141.50,202.17 1150.90,211.57 1141.50,220.97 1132.10,211.57"/>
<polygon points="1178.60,251.97 1188.00,261.37 1178.60,270.77 1169.20,261.37"/>
<polygon points="1215.70,291.20 1225.10,300.60 1215.70,310.00 1206.30,300.60"/>
<polygon points="1252.80,322.14 1262.20,331.54 1252.80,340.94 1243.40,331.54"/>
<polygon points="1289.90,353.07 1299.30,362.47 1289.90,371.87 1280.50,362.47"/>
<polygon points="1327.00,368.91 1336.40,378.31 1327.00,387.71 1317.60,378.31"/>
<polygon points="1364.10,352.32 1373.50,361.72 1364.10,371.12 1354.70,361.72"/>
<polygon points="1401.20,300.26 1410.60,309.66 1401.20,319.06 1391.80,309.66"/>
<polygon points="1438.30,279.88 1447.70,289.28 1438.30,298.68 1428.90,289.28"/>
<polygon points="1475.40,256.49 1484.80,265.89 1475.40,275.29 1466.00,265.89"/>
<polygon points="1512.50,243.67 1521.90,253.07 1512.50,262.47 1503.10,253.07"/>
<polygon points="1549.60,227.82 1559.00,237.22 1549.60,246.62 1540.20,237.22"/>
<polygon points="1586.70,214.24 1596.10,223.64 1586.70,233.04 1577.30,223.64"/>
<polygon points="1623.80,218.77 1633.20,228.17 1623.80,237.57 1614.40,228.17"/>
<polygon points="1660.90,188.21 1670.30,197.61 1660.90,207.01 1651.50,197.61"/>
<polygon points="1698.00,187.83 1707.40,197.23 1698.00,206.63 1688.60,197.23"/>
<polygon points="1735.10,185.57 1744.50,194.97 1735.10,204.37 1725.70,194.97"/>
<polygon points="1772.20,178.40 1781.60,187.80 1772.20,197.20 1762.80,187.80"/>
<polygon points="1809.30,174.25 1818.70,183.65 1809.30,193.05 1799.90,183.65"/>
<polygon points="1846.40,166.71 1855.80,176.11 1846.40,185.51 1837.00,176.11"/>
<polygon points="1067.30,157.70 1075.48,163.64 1072.35,173.26 1062.25,173.26 1059.12,163.64"/>
<polygon points="1104.40,180.34 1112.58,186.28 1109.45,195.89 1099.35,195.89 1096.22,186.28"/>
<polygon points="1141.50,199.20 1149.68,205.14 1146.55,214.76 1136.45,214.76 1133.32,205.14"/>
<polygon points="1178.60,248.24 1186.78,254.18 1183.65,263.80 1173.55,263.80 1170.42,254.18"/>
<polygon points="1215.70,267.10 1223.88,273.04 1220.75,282.66 1210.65,282.66 1207.52,273.04"/>
<polygon points="1252.80,295.02 1260.98,300.96 1257.85,310.58 1247.75,310.58 1244.62,300.96"/>
<polygon points="1289.90,327.09 1298.08,333.03 1294.95,342.64 1284.85,342.64 1281.72,333.03"/>
<polygon points="1327.00,324.82 1335.18,330.76 1332.05,340.38 1321.95,340.38 1318.82,330.76"/>
<polygon points="1364.10,302.56 1372.28,308.51 1369.15,318.12 1359.05,318.12 1355.92,308.51"/>
<polygon points="1401.20,278.42 1409.38,284.36 1406.25,293.98 1396.15,293.98 1393.02,284.36"/>
<polygon points="1438.30,249.75 1446.48,255.69 1443.35,265.31 1433.25,265.31 1430.12,255.69"/>
<polygon points="1475.40,236.17 1483.58,242.11 1480.45,251.73 1470.35,251.73 1467.22,242.11"/>
<polygon points="1512.50,225.60 1520.68,231.55 1517.55,241.16 1507.45,241.16 1504.32,231.55"/>
<polygon points="1549.60,212.02 1557.78,217.97 1554.65,227.58 1544.55,227.58 1541.42,217.97"/>
<polygon points="1586.70,199.20 1594.88,205.14 1591.75,214.76 1581.65,214.76 1578.52,205.14"/>
<polygon points="1623.80,188.63 1631.98,194.58 1628.85,204.19 1618.75,204.19 1615.62,194.58"/>
<polygon points="1660.90,187.88 1669.08,193.82 1665.95,203.44 1655.85,203.44 1652.72,193.82"/>
<polygon points="1698.00,189.01 1706.18,194.95 1703.05,204.57 1692.95,204.57 1689.82,194.95"/>
<polygon points="1735.10,184.86 1743.28,190.80 1740.15,200.42 1730.05,200.42 1726.92,190.80"/>
<polygon points="1772.20,179.20 1780.38,185.15 1777.25,194.76 1767.15,194.76 1764.02,185.15"/>
<polygon points="1809.30,167.51 1817.48,173.45 1814.35,183.07 1804.25,183.07 1801.12,173.45"/>
<polygon points="1846.40,152.42 1854.58,158.36 1851.45,167.98 1841.35,167.98 1838.22,158.36"/>
</g>
<g stroke="#000" stroke-width="2.0" fill="none">
<path d="M1067.3 15.4V631.5M1054.4 619.0H1884.5"/>
<path d="M1067.30 619.0v12.5M1104.40 619.0v6.5M1141.50 619.0v12.5M1178.60 619.0v6.5M1215.70 619.0v12.5M1252.80 619.0v6.5M1289.90 619.0v12.5M1327.00 619.0v6.5M1364.10 619.0v12.5M1401.20 619.0v6.5M1438.30 619.0v12.5M1475.40 619.0v6.5M1512.50 619.0v12.5M1549.60 619.0v6.5M1586.70 619.0v12.5M1623.80 619.0v6.5M1660.90 619.0v12.5M1698.00 619.0v6.5M1735.10 619.0v12.5M1772.20 619.0v6.5M1809.30 619.0v12.5M1846.40 619.0v6.5M1883.50 619.0v12.5M1067.3 619.00h-12.9M1067.3 581.27h-6.6M1067.3 543.55h-12.9M1067.3 505.82h-6.6M1067.3 468.10h-12.9M1067.3 430.38h-6.6M1067.3 392.65h-12.9M1067.3 354.93h-6.6M1067.3 317.20h-12.9M1067.3 279.48h-6.6M1067.3 241.75h-12.9M1067.3 204.02h-6.6M1067.3 166.30h-12.9M1067.3 128.57h-6.6M1067.3 90.85h-12.9M1067.3 53.12h-6.6M1067.3 15.40h-12.9"/>
</g>
<g font-family='"Liberation Serif", serif' font-weight="bold" font-size="24.3" fill="#000">
<text x="1067.30" y="658.70" text-anchor="middle">0</text>
<text x="1141.50" y="658.70" text-anchor="middle">2</text>
<text x="1215.70" y="658.70" text-anchor="middle">4</text>
<text x="1289.90" y="658.70" text-anchor="middle">6</text>
<text x="1364.10" y="658.70" text-anchor="middle">8</text>
<text x="1438.30" y="658.70" text-anchor="middle">10</text>
<text x="1512.50" y="658.70" text-anchor="middle">12</text>
<text x="1586.70" y="658.70" text-anchor="middle">14</text>
<text x="1660.90" y="658.70" text-anchor="middle">16</text>
<text x="1735.10" y="658.70" text-anchor="middle">18</text>
<text x="1809.30" y="658.70" text-anchor="middle">20</text>
<text x="1883.50" y="658.70" text-anchor="middle">22</text>
<text x="1046.6" y="625.50" text-anchor="end">40</text>
<text x="1046.6" y="550.05" text-anchor="end">50</text>
<text x="1046.6" y="474.60" text-anchor="end">60</text>
<text x="1046.6" y="399.15" text-anchor="end">70</text>
<text x="1046.6" y="323.70" text-anchor="end">80</text>
<text x="1046.6" y="248.25" text-anchor="end">90</text>
<text x="1046.6" y="172.80" text-anchor="end">100</text>
<text x="1046.6" y="97.35" text-anchor="end">110</text>
<text x="1046.6" y="21.90" text-anchor="end">120</text>
</g>
<text x="1475.8" y="706.6" text-anchor="middle" font-family='"Liberation Serif", serif' font-weight="bold" font-size="29.6">Days Post Challenge</text>
<text transform="translate(989.8,336.2) rotate(-90)" text-anchor="middle" font-family='"Liberation Serif", serif' font-weight="bold" font-size="30.5">Weight (%)</text>
<text x="962.5" y="24.4" font-family='"Liberation Serif", serif' font-size="36">B</text>
<g stroke="#2e2e2e" stroke-width="1.35">
<path d="M1637.1 298.80H1704.3"/>
<path d="M1637.1 336.16H1704.3"/>
<path d="M1637.1 373.52H1704.3"/>
<path d="M1637.1 410.88H1704.3"/>
<path d="M1637.1 448.24H1704.3"/>
<path d="M1637.1 485.60H1704.3"/>
<path d="M1637.1 522.96H1704.3"/>
<path d="M1637.1 560.32H1704.3"/>
</g><g fill="#000">
<rect x="1664.05" y="292.15" width="13.30" height="13.30"/>
<circle cx="1670.70" cy="336.16" r="7.60"/>
<polygon points="1670.70,362.92 1679.90,378.82 1661.50,378.82"/>
<polygon points="1670.70,421.48 1679.90,405.58 1661.50,405.58"/>
<polygon points="1660.10,448.24 1676.00,439.04 1676.00,457.44"/>
<polygon points="1681.30,485.60 1665.40,476.40 1665.40,494.80"/>
<polygon points="1670.70,513.56 1680.10,522.96 1670.70,532.36 1661.30,522.96"/>
<polygon points="1670.70,551.72 1678.88,557.66 1675.75,567.28 1665.65,567.28 1662.52,557.66"/>
</g>
<g font-family='"Liberation Serif", serif' font-weight="bold" font-size="26.2" fill="#000">
<text x="1711" y="309.00">control</text>
<text x="1711" y="346.36">DNA</text>
<text x="1711" y="383.72">1μg</text>
<text x="1711" y="421.08">DNA+1μg</text>
<text x="1711" y="458.44">10μg</text>
<text x="1711" y="495.80">DNA+10μg</text>
<text x="1711" y="533.16">100μg</text>
<text x="1711" y="570.52">DNA+100μg</text>
</g>
</svg>
</body></html>
